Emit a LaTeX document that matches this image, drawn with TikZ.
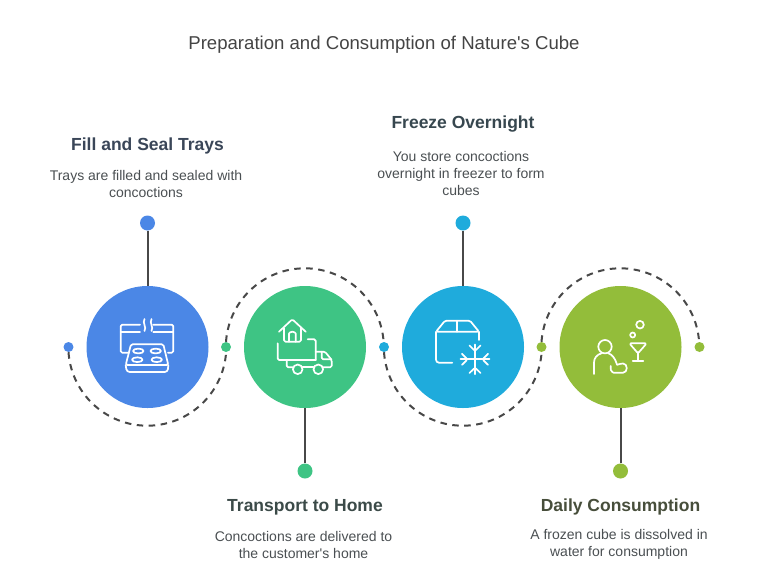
\documentclass[tikz,border=0pt]{standalone}
\usepackage{fontspec}
\setmainfont{Liberation Sans}
\usetikzlibrary{positioning}
\definecolor{bluefill}{HTML}{4B87E6}
\definecolor{greenfill}{HTML}{3EC484}
\definecolor{cyanfill}{HTML}{1FABDC}
\definecolor{olivefill}{HTML}{93BD3A}
\definecolor{stemgray}{HTML}{484848}
\definecolor{titlegray}{HTML}{444444}
\definecolor{bodygray}{HTML}{4A4F52}
\definecolor{fillhead}{HTML}{3A4658}
\definecolor{truckhead}{HTML}{3B4A48}
\definecolor{freezehead}{HTML}{37474F}
\definecolor{drinkhead}{HTML}{474E3B}
\tikzset{
  stepdisc/.style={circle,minimum size=122pt,inner sep=0pt},
  enddot/.style={circle,minimum size=15pt,inner sep=0pt},
  smalldot/.style={circle,minimum size=10pt,inner sep=0pt},
  stem/.style={line width=2pt,color=stemgray},
  dashline/.style={line width=2pt,color=stemgray,dash pattern=on 6.5pt off 5.5pt},
  icon/.style={line width=1.7pt,color=white,line cap=round,line join=round,rounded corners=1.5pt},
  headtext/.style={font=\fontsize{17.5}{22}\selectfont\bfseries,align=center},
  bodytext/.style={font=\fontsize{14}{17}\selectfont,color=bodygray,align=center}
}
\begin{document}
\begin{tikzpicture}[x=1pt,y=-1pt]
\useasboundingbox (0,0) rectangle (768,582);
\node[font=\fontsize{18.6}{22}\selectfont,color=titlegray] (title) at (384,45) {Preparation and Consumption of Nature\textquotesingle s Cube};

\node[stepdisc,fill=bluefill] (fillstep) at (147.5,347) {};
\node[stepdisc,fill=greenfill] (truckstep) at (305,347) {};
\node[stepdisc,fill=cyanfill] (freezestep) at (463,347) {};
\node[stepdisc,fill=olivefill] (drinkstep) at (620.5,347) {};

\node[smalldot,fill=bluefill] (dota) at (68.5,347) {};
\node[smalldot,fill=greenfill] (dotb) at (226,347) {};
\node[smalldot,fill=cyanfill] (dotc) at (384,347) {};
\node[smalldot,fill=olivefill] (dotd) at (541.5,347) {};
\node[smalldot,fill=olivefill] (dote) at (699.5,347) {};

\node[enddot,fill=bluefill] (fillend) at (147.5,223) {};
\node[enddot,fill=greenfill] (truckend) at (305,471) {};
\node[enddot,fill=cyanfill] (freezeend) at (463,223) {};
\node[enddot,fill=olivefill] (drinkend) at (620.5,471) {};

\draw[stem] (fillend) -- (fillstep);
\draw[stem] (truckend) -- (truckstep);
\draw[stem] (freezeend) -- (freezestep);
\draw[stem] (drinkend) -- (drinkstep);

\draw[dashline] (dota.south) arc[start angle=184,end angle=356,radius=79pt];
\draw[dashline] (dotb.north) arc[start angle=176,end angle=4,radius=79pt];
\draw[dashline] (dotc.south) arc[start angle=184,end angle=356,radius=79pt];
\draw[dashline] (dotd.north) arc[start angle=176,end angle=4,radius=79pt];

\node[headtext,color=fillhead] (fillhd) at (147.5,146) {Fill and Seal Trays};
\node[bodytext] (filltext) at (146,184) {Trays are filled and sealed with\\concoctions};
\node[headtext,color=freezehead] (freezehd) at (463,124) {Freeze Overnight};
\node[bodytext] (freezetext) at (461,173) {You store concoctions\\overnight in freezer to form\\cubes};
\node[headtext,color=truckhead] (truckhd) at (305,507) {Transport to Home};
\node[bodytext] (trucktext) at (303.5,544.5) {Concoctions are delivered to\\the customer\textquotesingle s home};
\node[headtext,color=drinkhead] (drinkhd) at (620.5,507) {Daily Consumption};
\node[bodytext] (drinktext) at (619,544.5) {A frozen cube is dissolved in\\water for consumption};

\draw[icon] (140,324.7) -- (120.7,324.7) -- (120.7,352.7) -- (129,352.7);
\draw[icon] (120.7,331.7) -- (140,331.7);
\draw[icon] (153.3,324.7) -- (173.3,324.7) -- (173.3,352.7) -- (168,352.7);
\draw[icon] (153.3,331.7) -- (173.3,331.7);
\draw[icon] (131,344.3) -- (163.3,344.3) -- (168.3,365) -- (125.7,365) -- cycle;
\draw[icon,rounded corners=3pt] (125.7,365) -- (126.7,372) -- (167.7,372) -- (168.3,365);
\draw[icon] (138.3,351) ellipse[x radius=5.3,y radius=2.4];
\draw[icon] (155.7,351) ellipse[x radius=5.3,y radius=2.4];
\draw[icon] (137.3,359.7) ellipse[x radius=5.3,y radius=2.4];
\draw[icon] (156.7,359.7) ellipse[x radius=5.3,y radius=2.4];
\draw[icon] (144.5,319) .. controls (142,323) and (147,327) .. (144.5,331);
\draw[icon] (151.5,319) .. controls (149,323) and (154,327) .. (151.5,331);

\draw[icon] (279,331.7) -- (292.3,319.3) -- (305.7,331.7);
\draw[icon] (284,328.3) -- (284,341.7) -- (301,341.7) -- (301,328.3);
\draw[icon] (289,341.7) -- (289,335) arc[start angle=180,end angle=0,radius=3.35pt] -- (295.7,341.7);
\draw[icon] (277.7,343.3) -- (277.7,360) -- (315.7,360);
\draw[icon] (307.7,339.3) -- (315.7,339.3) -- (315.7,360);
\draw[icon] (286.7,360) -- (286.7,367.3) -- (293,367.3);
\draw[icon] (297.7,369.3) circle[radius=4.8pt];
\draw[icon] (318.3,369.3) circle[radius=4.8pt];
\draw[icon] (302.5,367.3) -- (313.5,367.3);
\draw[icon] (315.7,351.7) -- (325,351.7) -- (331.7,360) -- (331.7,367.3) -- (323,367.3);
\draw[icon] (321.7,351.7) -- (321.7,359.3) -- (331.5,359.3);

\draw[icon] (436,331.7) -- (445,320.7) -- (470,320.7) -- (479,331.7) -- cycle;
\draw[icon] (457.3,320.7) -- (457.3,331.7);
\draw[icon,rounded corners=3pt] (436,331.7) -- (436,362.7) -- (452.3,362.7);
\draw[icon] (479,331.7) -- (479,340);
\draw[icon] (475,344.5) -- (475,374.2);
\draw[icon] (460.5,359.3) -- (489.5,359.3);
\draw[icon] (469.5,345.5) -- (475,351) -- (480.5,345.5);
\draw[icon] (469.5,373) -- (475,367.6) -- (480.5,373);
\draw[icon] (462,353.8) -- (467.5,359.3) -- (462,364.8);
\draw[icon] (488,353.8) -- (482.5,359.3) -- (488,364.8);

\draw[icon] (605,346.7) circle[radius=6.7pt];
\draw[icon] (594,374) -- (594,364) .. controls (594,358) and (597,354.5) .. (601.5,353.3);
\draw[icon] (608.5,353.3) .. controls (612,354.5) and (615,358) .. (617,364.5);
\draw[icon] (610.7,366) -- (610.7,368.5) .. controls (611,371) and (613,372.7) .. (615,372.7) -- (621.5,372.7) .. controls (628,372.7) and (628,363.5) .. (621.5,363.5) -- (617,364.8);
\draw[icon] (629.3,343.3) -- (646.7,343.3) -- (638,353.3) -- cycle;
\draw[icon] (638,353.3) -- (638,360.7);
\draw[icon] (632.7,360.7) -- (643.3,360.7);
\draw[icon] (640,324.7) circle[radius=3.8pt];
\draw[icon] (632.7,335) circle[radius=2.5pt];
\end{tikzpicture}
\end{document}
